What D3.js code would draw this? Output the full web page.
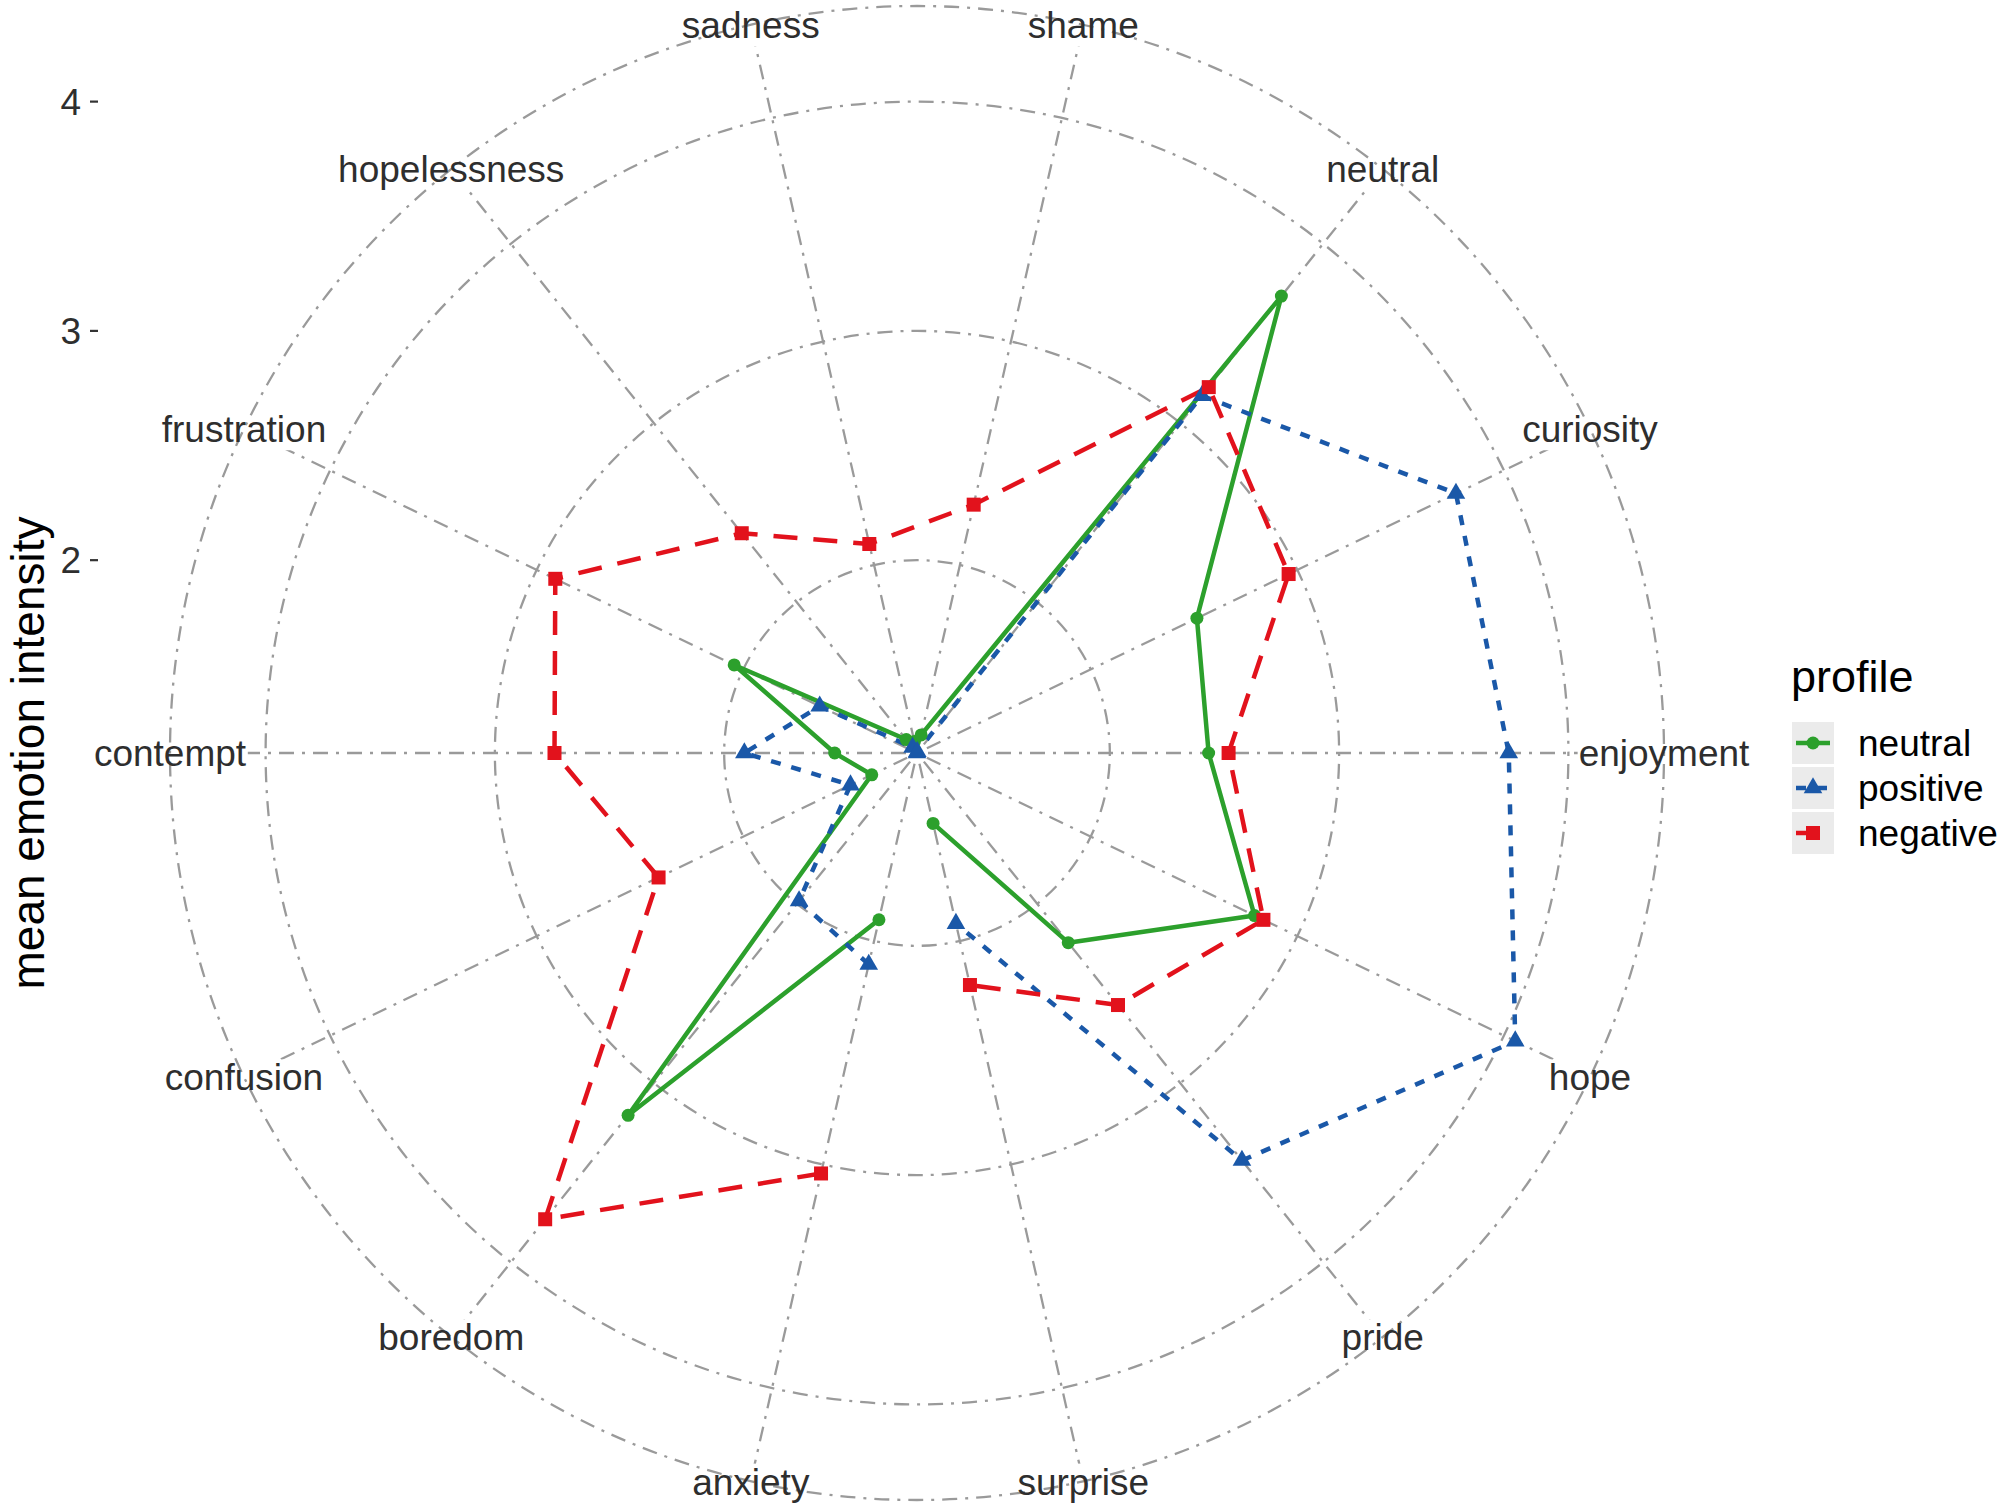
<!DOCTYPE html>
<html><head><meta charset="utf-8">
<script src="https://cdn.jsdelivr.net/npm/d3@7"></script>
<style>html,body{margin:0;padding:0;background:#fff;} svg{display:block;font-family:"Liberation Sans",Arial,Helvetica,sans-serif;}</style>
</head><body><svg id="chart" width="2005" height="1511"></svg>
<script>
// ---- data ----
const categories = ["anxiety","boredom","confusion","contempt","frustration","hopelessness","sadness","shame","neutral","curiosity","enjoyment","hope","pride","surprise"];
const profiles = ["neutral","positive","negative"];
const neutralValues  = [1.905, 3.180, 1.378, 1.518, 2.044, 1.234, 1.210, 1.240, 3.708, 2.514, 2.431, 2.793, 2.217, 1.474];
const positiveValues = [2.105, 1.984, 1.481, 1.912, 1.630, 1.190, 1.159, 1.165, 3.152, 3.768, 3.740, 4.055, 3.432, 1.922];
const negativeValues = [3.040, 3.760, 2.410, 2.740, 2.910, 2.385, 2.094, 2.270, 3.200, 2.958, 2.518, 2.836, 2.565, 2.197];
const yTicks = [2, 3, 4];
const yTickLabels = ["2", "3", "4"];
const colors = ["#2ca02c", "#1a58a8", "#e2121c"];
const dashes = [null, "10,11", "24,16"];
const shapes = ["circle", "triangle", "square"];

// ---- layout ----
const cx = 917, cy = 753, panel = 1660;
const rMax = 0.4 * panel, rOuter = 0.45 * panel;
const svg = d3.select("#chart");
const series = profiles.map((p, i) => ({name: p, values: [neutralValues, positiveValues, negativeValues][i], color: colors[i], dash: dashes[i], shape: shapes[i]}));
const all = series.flatMap(s => s.values);
const r = d3.scaleLinear().domain(d3.extent(all)).range([0, rMax]);
const band = d3.scaleBand().domain(categories).range([Math.PI, 3 * Math.PI]);
const ang = c => band(c) + band.bandwidth() / 2;
const px = (c, rad) => cx + rad * Math.sin(ang(c));
const py = (c, rad) => cy - rad * Math.cos(ang(c));

const gridCol = "#9a9a9a", gridDash = "3,8,15,8", gridW = 2.3;

const gSpokes = svg.append("g");
const gMask = svg.append("g");
const gCircles = svg.append("g");
const gData = svg.append("g");
const gLabels = svg.append("g");

// spokes
gSpokes.selectAll("line").data(categories).join("line")
  .attr("x1", cx).attr("y1", cy)
  .attr("x2", c => px(c, rOuter)).attr("y2", c => py(c, rOuter))
  .attr("stroke", gridCol).attr("stroke-width", gridW).attr("stroke-dasharray", gridDash);

// circles
gCircles.selectAll("circle").data(yTicks.map(t => r(t)).concat([rOuter])).join("circle")
  .attr("cx", cx).attr("cy", cy).attr("r", d => d)
  .attr("fill", "none").attr("stroke", gridCol).attr("stroke-width", gridW).attr("stroke-dasharray", gridDash);

// theta labels
const fs = 37;
const labs = gLabels.selectAll("text").data(categories).join("text")
  .attr("x", c => px(c, rOuter)).attr("y", c => py(c, rOuter) + 0.32 * fs + 1.5)
  .attr("text-anchor", "middle").attr("font-size", fs).attr("fill", "#2e2e2e")
  .text(c => c);
labs.each(function() {
  const b = this.getBBox();
  gMask.append("rect").attr("x", b.x - 1).attr("y", b.y + 2).attr("width", b.width + 2).attr("height", b.height - 2).attr("fill", "#fff");
});

// data lines
const line = d3.line().x(d => px(d.c, r(d.v))).y(d => py(d.c, r(d.v)));
series.forEach(s => {
  const pts = categories.map((c, i) => ({c, v: s.values[i]}));
  gData.append("path").datum(pts).attr("d", line)
    .attr("fill", "none").attr("stroke", s.color).attr("stroke-width", 4.5)
    .attr("stroke-dasharray", s.dash).attr("stroke-linejoin", "round");
});
function marker(g, shape, x, y, col) {
  if (shape === "circle") g.append("circle").attr("cx", x).attr("cy", y).attr("r", 6.5).attr("fill", col);
  else if (shape === "square") g.append("rect").attr("x", x - 7).attr("y", y - 7).attr("width", 14).attr("height", 14).attr("fill", col);
  else g.append("path").attr("d", d3.symbol(d3.symbolTriangle, 150)()).attr("transform", `translate(${x},${y})`).attr("fill", col);
}
series.forEach(s => {
  categories.forEach((c, i) => marker(gData, s.shape, px(c, r(s.values[i])), py(c, r(s.values[i])), s.color));
});

// y axis (left)
const gy = svg.append("g");
yTicks.forEach((t, i) => {
  const y = cy - r(t);
  gy.append("line").attr("x1", 90).attr("x2", 98).attr("y1", y).attr("y2", y).attr("stroke", "#333").attr("stroke-width", 2.2);
  gy.append("text").attr("x", 81).attr("y", y + 13).attr("text-anchor", "end").attr("font-size", fs).attr("fill", "#2e2e2e").text(yTickLabels[i]);
});
svg.append("text").attr("transform", `translate(44,${cy}) rotate(-90)`).attr("text-anchor", "middle")
  .attr("font-size", 46).attr("fill", "#000").text("mean emotion intensity");

// legend
const lg = svg.append("g");
lg.append("text").attr("x", 1791).attr("y", 692).attr("font-size", 45).attr("fill", "#000").text("profile");
series.forEach((s, i) => {
  const y0 = 722 + i * 45;
  lg.append("rect").attr("x", 1792).attr("y", y0).attr("width", 42).attr("height", 42).attr("fill", "#ebebeb");
  lg.append("line").attr("x1", 1796).attr("x2", 1830).attr("y1", y0 + 21).attr("y2", y0 + 21)
    .attr("stroke", s.color).attr("stroke-width", 4.5).attr("stroke-dasharray", s.dash);
  marker(lg, s.shape, 1813, y0 + 21, s.color);
  lg.append("text").attr("x", 1858).attr("y", y0 + 34).attr("font-size", 37).attr("fill", "#000").text(s.name);
});
</script></body></html>
